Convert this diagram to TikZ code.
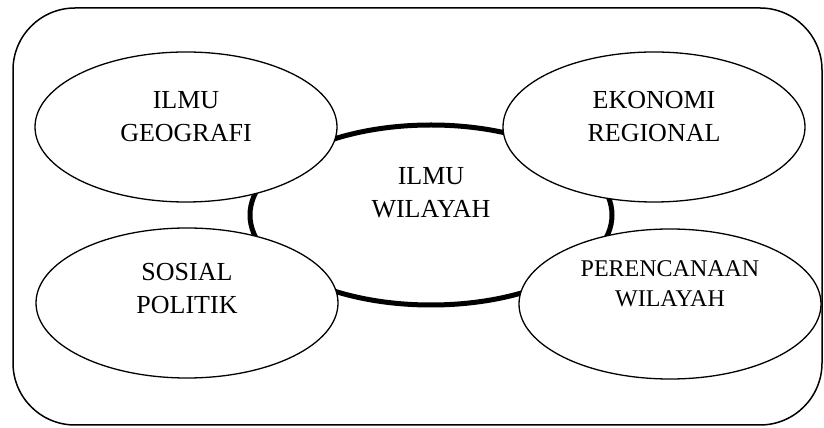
\documentclass[tikz,border=0pt]{standalone}
\usepackage{fontspec}
\setmainfont{Liberation Serif}
\usepackage{xcolor}
\usepackage{tikz}
\usetikzlibrary{shapes.geometric, positioning, calc}
\definecolor{mydark}{RGB}{0,0,0}
\tikzset{
  topic/.style={ellipse, draw=mydark, fill=white, inner sep=0pt,
    minimum width=302pt, minimum height=150pt, line width=1.3pt},
  core/.style={ellipse, draw=mydark, inner sep=0pt,
    minimum width=362pt, minimum height=180pt, line width=5pt},
  label/.style={align=center, inner sep=0pt, font=\fontsize{26}{33}\selectfont},
  frame/.style={draw=mydark, line width=1.5pt, rounded corners=62pt}
}

\begin{document}
\begin{tikzpicture}[x=1pt, y=1pt]
  \useasboundingbox (0,0) rectangle (824,428);
  % Outer frame
  \draw[frame] (13,420) rectangle (822,3);

  % Central ellipse
  \node[core] (center) at (431,213) {};
  \node[label] (center-txt) at ($(center)+(0,22)$) {ILMU\\WILAYAH};

  % Surrounding ellipses
  \node[topic] (geo) at (186,301) {};
  \node[topic] (eko) at (654,301) {};
  \node[topic] (sos) at (187,125) {};
  \node[topic] (per) at (670,124) {};

  % Texts
  \node[label] (geo-txt) at ($(geo)+(0,10)$) {ILMU\\GEOGRAFI};
  \node[label] (eko-txt) at ($(eko)+(0,10)$) {EKONOMI\\REGIONAL};
  \node[label] (sos-txt) at ($(sos)+(0,14)$) {SOSIAL\\POLITIK};
  \node[label, font=\fontsize{24}{30}\selectfont] (per-txt) at ($(per)+(0,20)$) {PERENCANAAN\\WILAYAH};
\end{tikzpicture}
\end{document}
